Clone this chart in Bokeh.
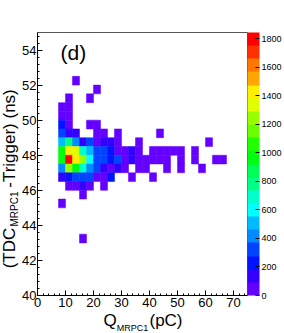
import colorsys
from bokeh.plotting import figure
from bokeh.layouts import row, column
from bokeh.models import (Range1d, FixedTicker, LinearColorMapper, ColorBar, Label,
                          ColumnDataSource)
from bokeh.core.properties import value
from bokeh.embed import file_html
from bokeh.resources import INLINE

# ---------------- data (bin lower edges and counts) ----------------
q_low = [12.5,
         20,
         10, 17.5,
         7.5, 10,
         7.5, 10,
         7.5, 10, 17.5, 20,
         7.5, 10, 12.5, 20, 22.5, 27.5, 42.5,
         7.5, 10, 12.5, 15, 17.5, 20, 22.5, 25, 27.5, 35, 60,
         7.5, 10, 12.5, 15, 17.5, 20, 22.5, 25, 27.5, 30, 32.5, 35, 40, 42.5, 45, 47.5, 50, 55,
         7.5, 10, 12.5, 15, 17.5, 20, 22.5, 25, 27.5, 30, 32.5, 35, 37.5, 40, 42.5, 45, 50, 55, 62.5, 65,
         7.5, 10, 12.5, 15, 17.5, 20, 22.5, 25, 27.5, 30, 35, 37.5, 45, 50, 57.5,
         7.5, 10, 12.5, 15, 17.5, 20, 22.5, 25, 32.5, 40,
         10, 12.5, 15, 17.5, 22.5,
         15,
         7.5,
         15]
t_low = [52.0,
         51.5,
         51.0, 51.0,
         50.5, 50.5,
         50.0, 50.0,
         49.5, 49.5, 49.5, 49.5,
         49.0, 49.0, 49.0, 49.0, 49.0, 49.0, 49.0,
         48.5, 48.5, 48.5, 48.5, 48.5, 48.5, 48.5, 48.5, 48.5, 48.5, 48.5,
         48.0, 48.0, 48.0, 48.0, 48.0, 48.0, 48.0, 48.0, 48.0, 48.0, 48.0, 48.0, 48.0, 48.0, 48.0, 48.0, 48.0, 48.0,
         47.5, 47.5, 47.5, 47.5, 47.5, 47.5, 47.5, 47.5, 47.5, 47.5, 47.5, 47.5, 47.5, 47.5, 47.5, 47.5, 47.5, 47.5, 47.5, 47.5,
         47.0, 47.0, 47.0, 47.0, 47.0, 47.0, 47.0, 47.0, 47.0, 47.0, 47.0, 47.0, 47.0, 47.0, 47.0,
         46.5, 46.5, 46.5, 46.5, 46.5, 46.5, 46.5, 46.5, 46.5, 46.5,
         46.0, 46.0, 46.0, 46.0, 46.0,
         45.5,
         45.0,
         43.0]
counts = [12,
          8,
          25, 10,
          45, 30,
          70, 40,
          235, 60, 20, 25,
          330, 150, 120, 45, 50, 15, 6,
          510, 790, 420, 160, 300, 85, 110, 100, 55, 18, 5,
          960, 1430, 1330, 690, 500, 330, 310, 240, 80, 60, 120, 50, 30, 25, 20, 15, 12, 8,
          990, 1845, 1440, 1250, 600, 340, 320, 220, 300, 70, 130, 40, 35, 30, 25, 20, 14, 9, 6, 5,
          420, 1240, 960, 700, 410, 310, 150, 80, 140, 40, 30, 25, 12, 10, 6,
          150, 240, 320, 330, 300, 60, 50, 230, 10, 6,
          40, 50, 130, 45, 15,
          20,
          8,
          3]
q_bin = 2.5
t_bin = 0.5
z_max = 1845

x_ticks = [0, 10, 20, 30, 40, 50, 60, 70]
y_ticks = [40, 42, 44, 46, 48, 50, 52, 54]
z_ticks = [0, 200, 400, 600, 800, 1000, 1200, 1400, 1600, 1800]

x_title = ["Q", "MRPC1", "(pC)"]
y_title = ["(TDC", "MRPC1", "-Trigger) (ns)"]
panel_label = "(d)"

# ---------------- ROOT-like "pretty" palette, 20 contours ----------------
def root_palette(ncont=20, ncol=50):
    cols = []
    for k in range(ncont):
        idx = int((k + 0.99) * ncol / ncont)
        hue = 280.0 - (idx + 1) * 280.0 / ncol
        r, g, b = colorsys.hls_to_rgb(hue / 360.0, 0.5, 1.0)
        cols.append('#%02x%02x%02x' % (round(r * 255), round(g * 255), round(b * 255)))
    return cols

palette = root_palette()

src = ColumnDataSource(dict(
    x=[v + q_bin / 2 for v in q_low],
    y=[v + t_bin / 2 for v in t_low],
    z=counts,
))

FONT = "Liberation Sans"
YT_W = 19          # width of the strip holding the y title
MAIN_W, MAIN_H = 284 - YT_W, 312
XT_H = 333 - MAIN_H
B_TOP, B_BOT = 32, 17
FRAME_H = MAIN_H - B_TOP - B_BOT

# ---------------- main plot ----------------
p = figure(width=MAIN_W, height=MAIN_H, output_backend="svg", toolbar_location=None,
           title=None,
           x_range=Range1d(0, 75), y_range=Range1d(40, 55),
           min_border_left=16, min_border_top=B_TOP, min_border_bottom=B_BOT,
           min_border_right=37)
p.background_fill_color = "white"
p.border_fill_color = "white"
p.outline_line_color = "#555555"
p.grid.visible = False

mapper = LinearColorMapper(palette=palette, low=0, high=z_max)
p.rect(x='x', y='y', width=q_bin, height=t_bin, source=src,
       fill_color={'field': 'z', 'transform': mapper},
       line_color={'field': 'z', 'transform': mapper}, line_width=0.5)

p.xaxis.ticker = FixedTicker(ticks=x_ticks, minor_ticks=[2 * i for i in range(38)])
p.yaxis.ticker = FixedTicker(ticks=y_ticks, minor_ticks=[40 + 0.4 * i for i in range(38)])
for ax in (p.xaxis[0], p.yaxis[0]):
    ax.major_tick_in = 5
    ax.major_tick_out = 0
    ax.minor_tick_in = 2
    ax.minor_tick_out = 0
    ax.axis_line_color = "black"
    ax.major_tick_line_color = "black"
    ax.minor_tick_line_color = "black"
    ax.major_label_text_font = FONT
    ax.major_label_text_font_size = "13px"
    ax.major_label_text_color = "black"
p.xaxis.major_label_standoff = 2
p.yaxis.major_label_standoff = 1

cb = ColorBar(color_mapper=mapper, ticker=FixedTicker(ticks=z_ticks),
              width=12, height=FRAME_H, padding=0, margin=1, location="top_left",
              major_tick_in=4, major_tick_out=0, major_tick_line_color="black",
              minor_tick_line_color=None, bar_line_color=None,
              major_label_text_font=FONT, major_label_text_font_size="9px",
              major_label_text_color="black",
              label_standoff=2, background_fill_color=None, border_line_color=None)
p.add_layout(cb, "right")

p.add_layout(Label(x=23, y=243, x_units="screen", y_units="screen", text=panel_label,
                   text_font=FONT, text_font_size="21px", text_baseline="alphabetic",
                   text_color="black"))

# ---------------- y title strip (frame aligned with the main frame) ----------------
fy = figure(width=YT_W, height=MAIN_H, output_backend="svg", toolbar_location=None,
            title=None, x_range=Range1d(0, YT_W), y_range=Range1d(0, FRAME_H),
            min_border_left=0, min_border_right=0,
            min_border_top=B_TOP, min_border_bottom=B_BOT,
            x_axis_location=None, y_axis_location=None)
fy.grid.visible = False
fy.outline_line_color = None
# centres of the title pieces, y measured upward from the main frame's bottom edge
fy.text(x=[9.3, 9.3], y=[47.5, 157], text=[y_title[0], y_title[2]], angle=1.5708,
        text_font=value(FONT), text_font_size="17px", text_baseline="middle",
        text_align="center", text_color="black")
fy.text(x=[13.6], y=[86.5], text=[y_title[1]], angle=1.5708,
        text_font=value(FONT), text_font_size="10px", text_baseline="middle",
        text_align="center", text_color="black")

# ---------------- x title strip ----------------
fx = figure(width=284, height=XT_H, output_backend="svg", toolbar_location=None,
            title=None, x_range=Range1d(0, 284), y_range=Range1d(0, XT_H), min_border=0,
            x_axis_location=None, y_axis_location=None)
fx.grid.visible = False
fx.outline_line_color = None
fx.text(x=[109.5, 165.5], y=[13.5, 13], text=[x_title[0], x_title[2]],
        text_font=value(FONT), text_font_size="17px", text_baseline="middle",
        text_align="center", text_color="black")
fx.text(x=[132], y=[5.5], text=[x_title[1]],
        text_font=value(FONT), text_font_size="9px", text_baseline="middle",
        text_align="center", text_color="black")

layout = column(row(fy, p, spacing=0), fx, spacing=0)
open("out.html", "w").write(file_html(layout, INLINE))
